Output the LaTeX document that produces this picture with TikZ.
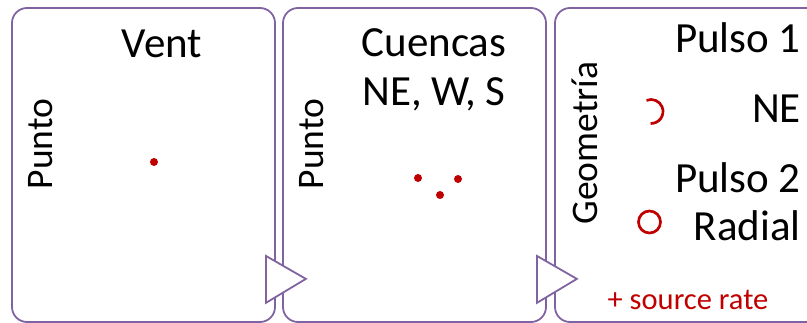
\documentclass[tikz,border=0pt]{standalone}
\usepackage{fontspec}
\setmainfont{Carlito}
\usetikzlibrary{calc}
\definecolor{boxpurple}{HTML}{8064A2}
\definecolor{dotred}{HTML}{C00000}
\tikzset{
  panel/.style={draw=boxpurple, line width=1.8pt, rounded corners=15pt,
    minimum height=314pt, inner sep=0pt},
  chevron/.style={draw=boxpurple, fill=white, line width=1.8pt, line join=miter},
  title/.style={anchor=base, inner sep=0pt, font=\fontsize{43}{51}\selectfont},
  titleR/.style={anchor=base east, inner sep=0pt, font=\fontsize{43}{51}\selectfont},
  side/.style={rotate=90, inner sep=0pt, font=\fontsize{37.5}{44}\selectfont},
  reddot/.style={circle, fill=dotred, inner sep=0pt, minimum size=8pt},
  note/.style={anchor=base, inner sep=0pt, text=dotred, font=\fontsize{30.5}{36}\selectfont},
}
\begin{document}
\begin{tikzpicture}[x=1pt, y=-1pt]
\useasboundingbox (0,0) rectangle (807,323);
\clip (0,0) rectangle (807,323);

% three panels
\node[panel, minimum width=263pt] (b1) at (143.5,165) {};
\node[panel, minimum width=263pt] (b2) at (414.5,165) {};
\node[panel, minimum width=275pt] (b3) at (692.5,165) {};

% chevrons linking the panels
\draw[chevron] ($(b1.south east)+(-10,-67)$) coordinate (c1t)
  -- ($(b1.south east)+(30,-44)$) coordinate (c1p)
  -- ($(b1.south east)+(-10,-20)$) coordinate (c1b) -- cycle;
\draw[chevron] ($(b2.south east)+(-10,-67)$) coordinate (c2t)
  -- ($(b2.south east)+(30,-44)$) coordinate (c2p)
  -- ($(b2.south east)+(-10,-20)$) coordinate (c2b) -- cycle;

% panel 1: vent
\node[title] (t1) at (162,58) {Vent};
\node[side] (s1) at (41,144) {Punto};
\node[reddot] (d1) at (154,162) {};

% panel 2: basins
\node[title] (t2a) at (434,57) {Cuencas};
\node[title] (t2b) at (434,106) {NE, W, S};
\node[side] (s2) at (312,144) {Punto};
\node[reddot] (d2a) at (418,178) {};
\node[reddot] (d2b) at (458,179) {};
\node[reddot] (d2c) at (440,195) {};

% panel 3: pulse geometry
\node[side] (s3) at (585,143) {Geometría};
\node[titleR] (t3a) at (801,53) {Pulso 1};
\node[titleR] (t3b) at (801,123) {NE};
\node[titleR] (t3c) at (801,193) {Pulso 2};
\node[titleR] (t3d) at (801,241) {Radial};
% open sector arc (y axis points down, so negative angles are up)
\draw[dotred, line width=2.7pt] (651,111.5) ++(-112:12) arc[start angle=-112, end angle=92, radius=12];
\node[circle, draw=dotred, line width=2.7pt, minimum size=22pt, inner sep=0pt] (ring) at (649.5,222) {};
\node[note] (n3) at (688,310) {+ source rate};
\end{tikzpicture}
\end{document}
